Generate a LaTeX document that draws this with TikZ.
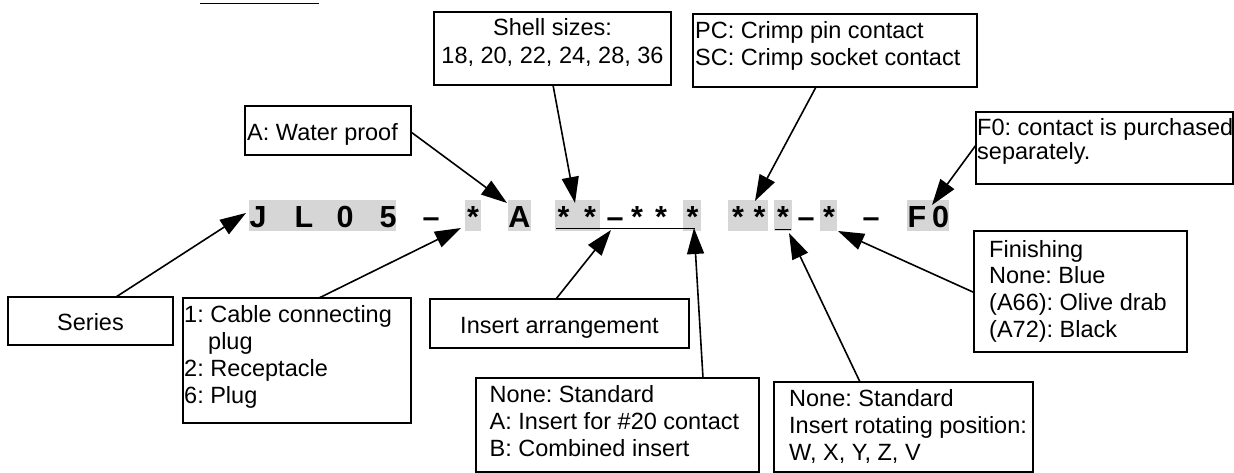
\documentclass[tikz,border=0pt]{standalone}
\usepackage{fontspec}
\setmainfont{Liberation Sans}
\usetikzlibrary{arrows.meta}
\newcommand{\firststrut}{\rule{0pt}{18pt}}
\frenchspacing
\begin{document}
\begin{tikzpicture}[x=1pt,y=-1pt,
  box/.style={draw, line width=1.4pt, anchor=north west, inner sep=0pt, outer sep=0pt},
  txt/.style={inner sep=0pt, anchor=north west, align=left, font=\fontsize{23.5}{27}\selectfont\frenchspacing},
  ctxt/.style={inner sep=0pt, align=center, font=\fontsize{23.5}{28}\selectfont\frenchspacing},
  code/.style={inner sep=0pt, anchor=base, font=\fontsize{30.5}{30}\bfseries\selectfont},
  arr/.style={line width=1.6pt, -{Triangle[length=26pt,width=17pt]}},
  shd/.style={fill=black!16}
]
\useasboundingbox (0,0) rectangle (1234,473);

% fragment of the cut-off heading underline
\draw[line width=1pt] (200,3.5) -- (319,3.5);

% ---- shaded backgrounds of the code ----
\foreach \a/\b in {249/396, 465/481, 508/531, 555/600, 683/701, 728/768, 774/792, 820/837, 907/949}
  \fill[shd] (\a,200) rectangle (\b,231);

% ---- code characters ----
\node[code] (cJ) at (258,228) {J};
\node[code] (cL) at (304,228) {L};
\node[code] (c0) at (345,228) {0};
\node[code] (c5) at (388,228) {5};
\node[code] (d1) at (431,228) {–};
\node[code] (s1) at (473,228) {*};
\node[code] (cA) at (519.5,228) {A};
\node[code] (s2) at (563.5,228) {*};
\node[code] (s3) at (590,228) {*};
\node[code] (d2) at (615,228) {–};
\node[code] (s4) at (637,228) {*};
\node[code] (s5) at (661,228) {*};
\node[code] (s6) at (692.5,228) {*};
\node[code] (s7) at (738,228) {*};
\node[code] (s8) at (759.5,228) {*};
\node[code] (s9) at (783,228) {*};
\node[code] (d3) at (806,228) {–};
\node[code] (s10) at (829,228) {*};
\node[code] (d4) at (871,228) {–};
\node[code] (cF) at (917,228) {F};
\node[code] (cO) at (940.5,228) {0};

% underlines
\draw[line width=1.3pt] (556,228.5) -- (695,228.5);
\draw[line width=1.3pt] (775,229.5) -- (791,229.5);

% ---- boxes ----
\node[box, minimum width=166pt, minimum height=49pt] (wp) at (245,106) {};
\node[box, minimum width=237pt, minimum height=73pt] (shell) at (434,12) {};
\node[box, minimum width=284pt, minimum height=73pt] (pc) at (693,14) {};
\node[box, minimum width=257pt, minimum height=72pt] (f0) at (976,112) {};
\node[box, minimum width=165pt, minimum height=48pt] (series) at (8,297) {};
\node[box, minimum width=228pt, minimum height=125pt] (cable) at (183,298) {};
\node[box, minimum width=259pt, minimum height=49pt] (ia) at (430,299) {};
\node[box, minimum width=283pt, minimum height=94pt] (stdA) at (476,378) {};
\node[box, minimum width=259pt, minimum height=90pt] (rot) at (774,382) {};
\node[box, minimum width=213pt, minimum height=121pt] (fin) at (974,231) {};

% ---- box texts ----
\node[txt] (twp) at (247,122) {\firststrut A: Water proof};
\node[ctxt, anchor=north] (tshell) at (552.5,17) {\firststrut Shell sizes:\\18, 20, 22, 24, 28, 36};
\node[txt] (tpc) at (695,20) {\firststrut PC: Crimp pin contact\\SC: Crimp socket contact};
\node[txt, font=\fontsize{23.5}{24}\selectfont\frenchspacing] (tf0) at (977,117) {\firststrut F0: contact is purchased\\separately.};
\node[ctxt, anchor=base] (tseries) at (90.5,330) {Series};
\node[txt] (tcable) at (184,304) {\firststrut 1: Cable connecting\\\hspace*{24pt}plug\\2: Receptacle\\6: Plug};
\node[ctxt, anchor=base] (tia) at (559.5,333) {Insert arrangement};
\node[txt] (tstdA) at (489.5,384) {\firststrut None: Standard\\A: Insert for \#20 contact\\B: Combined insert};
\node[txt] (trot) at (789,388) {\firststrut None: Standard\\Insert rotating position:\\W, X, Y, Z, V};
\node[txt, font=\fontsize{23.5}{26.7}\selectfont\frenchspacing] (tfin) at (989,239) {\firststrut Finishing\\None: Blue\\(A66): Olive drab\\(A72): Black};

% ---- arrow targets ----
\coordinate (tJ) at (246,213);
\coordinate (tS1) at (461,228);
\coordinate (tA) at (507,203);
\coordinate (tSh) at (575,203);
\coordinate (tIA) at (611,230);
\coordinate (tStd) at (694,228);
\coordinate (tPC) at (755,201);
\coordinate (tF0) at (932,205);
\coordinate (tRot) at (789,233);
\coordinate (tFin) at (838,231);

% ---- arrows ----
\draw[arr] ([xshift=25.5pt]series.north) -- (tJ);
\draw[arr] ([xshift=22pt]cable.north) -- (tS1);
\draw[arr] ([yshift=-1.5pt]wp.east) -- (tA);
\draw[arr] ([xshift=0.5pt]shell.south) -- (tSh);
\draw[arr] ([xshift=-3.5pt]ia.north) -- (tIA);
\draw[arr] ([xshift=85.5pt]stdA.north) -- (tStd);
\draw[arr] ([xshift=-19pt]pc.south) -- (tPC);
\draw[arr] ([yshift=3pt]f0.west) -- (tF0);
\draw[arr] ([xshift=-43.5pt]rot.north) -- (tRot);
\draw[arr] ([yshift=-1pt]fin.west) -- (tFin);
\end{tikzpicture}
\end{document}
